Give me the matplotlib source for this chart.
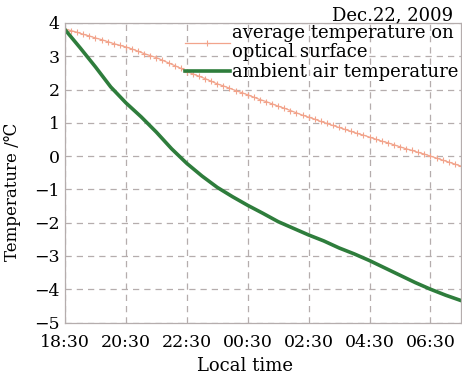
import numpy as np
import matplotlib
matplotlib.use("Agg")
import matplotlib.pyplot as plt

plt.rcParams['font.family'] = ['DejaVu Serif']

# hours after 18:30
tick_hours = [0, 2, 4, 6, 8, 10, 12]
tick_labels = ['18:30', '20:30', '22:30', '00:30', '02:30', '04:30', '06:30']
y_ticks = [-5, -4, -3, -2, -1, 0, 1, 2, 3, 4]

# optical surface, sampled every 12 min
surface_temp = [3.82, 3.77, 3.72, 3.66, 3.61,
                3.55, 3.50, 3.44, 3.38, 3.33,
                3.28, 3.22, 3.15, 3.08, 3.02,
                2.96, 2.88, 2.80, 2.72, 2.64,
                2.54, 2.47, 2.40, 2.33, 2.25,
                2.17, 2.11, 2.04, 1.97, 1.91,
                1.84, 1.77, 1.70, 1.64, 1.57,
                1.50, 1.44, 1.37, 1.30, 1.23,
                1.17, 1.11, 1.04, 0.98, 0.92,
                0.86, 0.80, 0.74, 0.68, 0.63,
                0.57, 0.51, 0.45, 0.40, 0.34,
                0.28, 0.22, 0.17, 0.11, 0.06,
                0.00, -0.06, -0.12, -0.18, -0.24,
                -0.30]
surface_hours = np.arange(len(surface_temp)) * 0.2

# ambient air, every 30 min
air_temp = [3.80, 3.25, 2.68, 2.08, 1.60, 1.18, 0.72, 0.22, -0.22, -0.60,
            -0.94, -1.22, -1.48, -1.72, -1.97, -2.17, -2.37, -2.55, -2.76,
            -2.94, -3.14, -3.36, -3.58, -3.80, -4.00, -4.18, -4.34]
air_hours = np.arange(len(air_temp)) * 0.5

fig = plt.figure(figsize=(4.62, 3.8), dpi=100)
ax = fig.add_axes([0.1407, 0.1513, 0.857, 0.7882])

ax.plot(surface_hours, surface_temp, color='#f2a48c', lw=0.9, marker='+',
        ms=5, mew=0.8, label='average temperature on\noptical surface')
ax.plot(air_hours, air_temp, color='#2e7d3c', lw=2.6,
        label='ambient air temperature')

ax.set_xlim(0, 13)
ax.set_ylim(-5, 4)
ax.set_xticks(tick_hours)
ax.set_xticklabels(tick_labels)
ax.set_yticks(y_ticks)
ax.tick_params(length=0, labelsize=12.5)
ax.tick_params(axis='x', pad=8)
ax.tick_params(axis='y', pad=4)
ax.grid(True, color='#b5adad', ls=(0, (5, 4)), lw=0.9)
for s in ax.spines.values():
    s.set_color('#b5adad')
    s.set_linewidth(0.9)

ax.set_xlabel('Local time', fontsize=13, va='top')
ax.xaxis.set_label_coords(0.455, -0.115)
ax.set_ylabel('Temperature /℃', fontsize=12, va='bottom')
ax.yaxis.set_label_coords(-0.11, 0.435)
fig.text(453 / 462, 1 - 20 / 380, 'Dec.22, 2009', fontsize=13,
         ha='right', va='baseline')

leg = ax.legend(loc='upper right', frameon=False, fontsize=13,
                handlelength=2.5, handletextpad=0.1, labelspacing=0.1,
                borderaxespad=0, borderpad=0,
                bbox_to_anchor=(458 / 462, 1 - 24 / 380),
                bbox_transform=fig.transFigure)
leg.get_texts()[0].set_linespacing(1.1)

fig.savefig('out.png', dpi=100)
